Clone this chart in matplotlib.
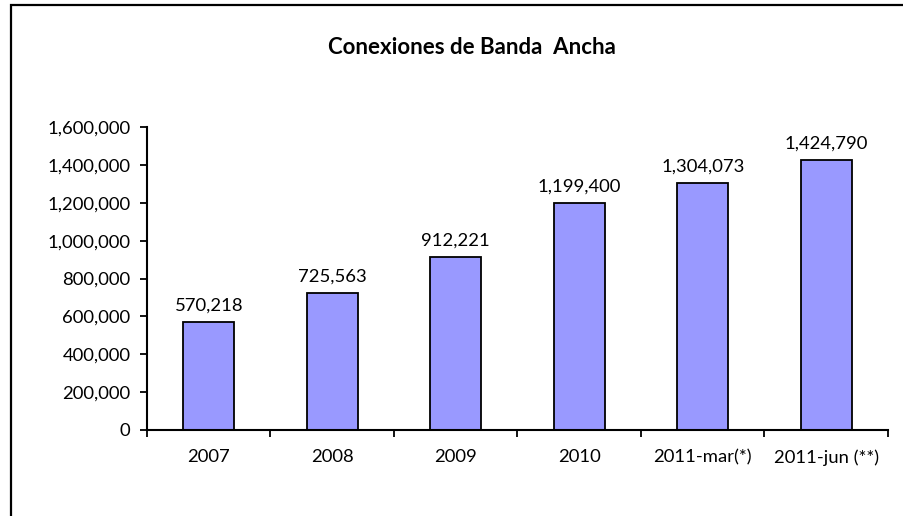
import matplotlib
matplotlib.use("Agg")
import matplotlib.pyplot as plt
from matplotlib.patches import Rectangle
from matplotlib.ticker import FuncFormatter, FixedLocator, NullFormatter

categories = ["2007", "2008", "2009", "2010", "2011-mar(*)", "2011-jun (**)"]
values = [570218, 725563, 912221, 1199400, 1304073, 1424790]
title = "Conexiones de Banda  Ancha"

plt.rcParams['font.family'] = ['Lato', 'DejaVu Sans']

W, H = 904, 516
fig = plt.figure(figsize=(W/100, H/100), dpi=100)
fig.patch.set_facecolor("white")

# outer chart border (cut off at right/bottom like reference)
fig.add_artist(Rectangle((11/W, -0.5), 2.0, (H - 5)/H + 0.5, transform=fig.transFigure,
                         fill=False, edgecolor="black", linewidth=1.6))

ax = fig.add_axes([147/W, (H-430)/H, (888-147)/W, (430-127)/H])
x = list(range(len(categories)))
ax.bar(x, values, width=0.41, color="#9999FF", edgecolor="black", linewidth=1.3)

ax.set_xlim(-0.5, len(categories) - 0.5)
ax.set_ylim(0, 1600000)
ax.set_yticks(range(0, 1600001, 200000))
ax.yaxis.set_major_formatter(FuncFormatter(lambda v, p: f"{int(v):,}"))

ax.set_xticks(x)
ax.set_xticklabels(categories)
ax.tick_params(axis="x", which="major", length=0, pad=14, labelsize=13.3)
ax.xaxis.set_minor_locator(FixedLocator([i - 0.5 for i in range(len(categories) + 1)]))
ax.xaxis.set_minor_formatter(NullFormatter())
ax.tick_params(axis="x", which="minor", length=5, width=1.3, direction="out")
ax.tick_params(axis="y", length=5, width=1.3, direction="out", labelsize=13.3, pad=7)

for s in ["top", "right"]:
    ax.spines[s].set_visible(False)
for s in ["left", "bottom"]:
    ax.spines[s].set_linewidth(1.5)

for xi, v in zip(x, values):
    ax.annotate(f"{v:,}", (xi, v), xytext=(0, 6), textcoords="offset points",
                ha="center", va="bottom", fontsize=13.3)

fig.text(472/W, 1 - 48/H, title, ha="center", va="center", fontsize=16, fontweight="bold")

fig.savefig("out.png", dpi=100)
